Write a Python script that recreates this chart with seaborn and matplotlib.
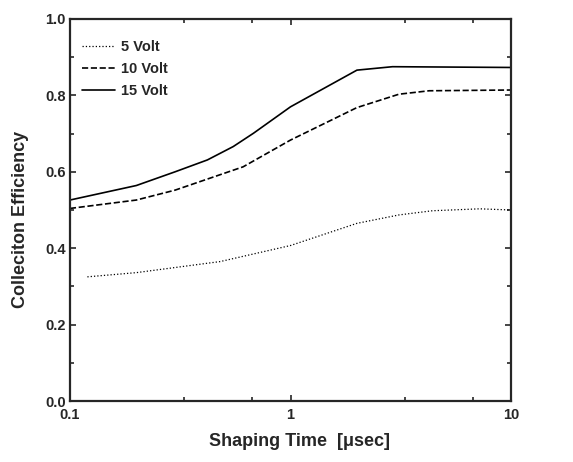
import numpy as np
import pandas as pd
import matplotlib
matplotlib.use("Agg")
import matplotlib.pyplot as plt
import seaborn as sns
from matplotlib.ticker import FixedLocator, NullFormatter, MultipleLocator

# Values
t_5v = [0.12, 0.2, 0.48, 1.0, 2.0, 3.1, 4.4, 7.2, 10.0]
eff_5v = [0.325, 0.336, 0.365, 0.407, 0.465, 0.487, 0.498, 0.503, 0.500]

t_10v = [0.1, 0.2, 0.3, 0.61, 1.0, 2.0, 3.1, 4.25, 10.0]
eff_10v = [0.504, 0.526, 0.552, 0.613, 0.683, 0.768, 0.803, 0.812, 0.814]

t_15v = [0.1, 0.2, 0.3, 0.42, 0.55, 0.68, 1.0, 2.0, 2.9, 10.0]
eff_15v = [0.526, 0.564, 0.600, 0.631, 0.666, 0.701, 0.770, 0.866, 0.875, 0.873]

series = [
    ("5 Volt", t_5v, eff_5v, ":", 0.9),
    ("10 Volt", t_10v, eff_10v, "--", 1.2),
    ("15 Volt", t_15v, eff_15v, "-", 1.2),
]

sns.set_style("ticks")
plt.rcParams['font.family'] = ['Liberation Sans', 'DejaVu Sans']
plt.rcParams['font.weight'] = 'bold'

fig = plt.figure(figsize=(5.73, 4.62), dpi=100)
ax = fig.add_axes([0.122, 0.132, 0.770, 0.827])

for label, t, eff, ls, lw in series:
    df = pd.DataFrame({"t": t, "eff": eff})
    sns.lineplot(data=df, x="t", y="eff", ax=ax, color="black",
                 linestyle=ls, linewidth=lw, label=label)

ax.set_xscale("log")
ax.set_xlim(0.1, 10)
ax.set_ylim(0.0, 1.0)
ax.set_xticks([0.1, 1, 10])
ax.set_xticklabels(["0.1", "1", "10"])
ax.xaxis.set_minor_locator(FixedLocator([0.33, 0.67, 3.3, 6.7]))
ax.xaxis.set_minor_formatter(NullFormatter())
ax.yaxis.set_major_locator(MultipleLocator(0.2))
ax.yaxis.set_minor_locator(MultipleLocator(0.1))
ax.yaxis.set_major_formatter(matplotlib.ticker.FormatStrFormatter("%.1f"))

ax.tick_params(which="both", direction="in", top=True, right=True,
               labelsize=10.5, width=1.2)
ax.tick_params(which="major", length=4)
ax.tick_params(which="minor", length=3)
ax.tick_params(axis="x", pad=5)
ax.tick_params(axis="y", pad=3)
for s in ax.spines.values():
    s.set_linewidth(1.6)

ax.set_xlabel("Shaping Time  [\u03bcsec]", fontsize=13, fontweight="bold")
ax.set_ylabel("Colleciton Efficiency", fontsize=13, fontweight="bold")
ax.xaxis.set_label_coords(0.52, -0.085)
ax.yaxis.set_label_coords(-0.092, 0.475)

ax.legend(loc="upper left", bbox_to_anchor=(0.014, 0.959), frameon=False,
          prop={"size": 10.5, "weight": "bold"},
          handlelength=2.3, handletextpad=0.4, labelspacing=0.55,
          borderaxespad=0.0)

fig.savefig("out.png", dpi=100)
